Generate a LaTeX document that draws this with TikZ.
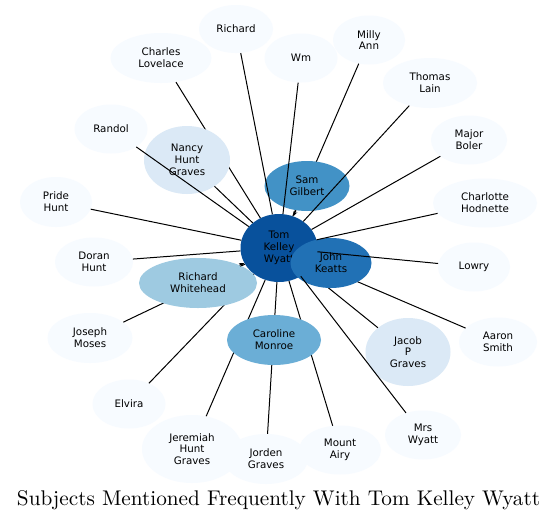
\documentclass[tikz,border=0pt]{standalone}
\usepackage{fontspec}
\usepackage{graphicx}
\newfontfamily\lblfont{DejaVu Sans}
\usetikzlibrary{shapes.geometric,arrows.meta}
\definecolor{c0}{HTML}{F7FBFF}
\definecolor{c1}{HTML}{DBE9F6}
\definecolor{c2}{HTML}{9ECAE1}
\definecolor{c3}{HTML}{6BAED6}
\definecolor{c4}{HTML}{4292C6}
\definecolor{c5}{HTML}{2171B5}
\definecolor{c6}{HTML}{08519C}
\begin{document}
\begin{tikzpicture}[x=1pt,y=-1pt,
  subj/.style={ellipse, draw=none, inner sep=0pt, align=center,
    font=\lblfont\fontsize{10.3}{11.8}\selectfont, text=black},
  sz/.style 2 args={minimum width=#1pt, minimum height=#2pt},
  link/.style={line width=1pt, black},
  tiplink/.style={link, -{Stealth[length=5pt,width=4pt]}},
  ]
\useasboundingbox (0,0) rectangle (557,520);
\fill[white] (0,0) rectangle (557,520);

% outer subjects
\node[subj,fill=c0,sz={74}{48}] (richard) at (236,29) {Richard};
\node[subj,fill=c0,sz={101}{50}] (charles) at (161,58) {Charles\\Lovelace};
\node[subj,fill=c0,sz={73}{49}] (wm) at (301,58) {Wm};
\node[subj,fill=c0,sz={72}{49}] (milly) at (369,40) {Milly\\Ann};
\node[subj,fill=c0,sz={94}{50}] (thomas) at (430,83) {Thomas\\Lain};
\node[subj,fill=c0,sz={73}{49}] (randol) at (111,129) {Randol};
\node[subj,fill=c0,sz={76}{49}] (major) at (469,140) {Major\\Boler};
\node[subj,fill=c0,sz={72}{50}] (pride) at (56,202) {Pride\\Hunt};
\node[subj,fill=c0,sz={104}{49}] (charlotte) at (485,203) {Charlotte\\Hodnette};
\node[subj,fill=c0,sz={78}{49}] (doran) at (94,262) {Doran\\Hunt};
\node[subj,fill=c0,sz={72}{49}] (lowry) at (474,267) {Lowry};
\node[subj,fill=c0,sz={85}{50}] (joseph) at (90,338) {Joseph\\Moses};
\node[subj,fill=c1,sz={85}{68}] (jacob) at (408,352) {Jacob\\P\\Graves};
\node[subj,fill=c0,sz={78}{49}] (aaron) at (498,342) {Aaron\\Smith};
\node[subj,fill=c0,sz={73}{49}] (elvira) at (129,404) {Elvira};
\node[subj,fill=c0,sz={76}{49}] (mrswyatt) at (423,435) {Mrs\\Wyatt};
\node[subj,fill=c0,sz={100}{68}] (jeremiah) at (192,449) {Jeremiah\\Hunt\\Graves};
\node[subj,fill=c0,sz={84}{50}] (jorden) at (266,459) {Jorden\\Graves};
\node[subj,fill=c0,sz={82}{49}] (mount) at (340,450) {Mount\\Airy};

% centre
\node[subj,fill=c6,sz={77}{68}] (tom) at (279,248) {Tom\\Kelley\\Wyatt};

% connectors lying beneath the coloured subjects
\draw[link] (charles) -- (tom);
\draw[link] (milly) -- (tom);
\draw[link] (aaron) -- (tom);
\draw[link] (jacob) -- (tom);
\draw[link] (jeremiah) -- (tom);
\draw[link] (jorden) -- (tom);
\draw[link] (mount) -- (tom);
\draw[link] (elvira) -- (tom);
\draw[link] (joseph) -- (tom);

% coloured subjects
\node[subj,fill=c1,sz={86}{68}] (nancy) at (187,160) {Nancy\\Hunt\\Graves};
\node[subj,fill=c4,sz={85}{50}] (sam) at (307,186) {Sam\\Gilbert};
\node[subj,fill=c3,sz={94}{50}] (caroline) at (274,340) {Caroline\\Monroe};
\node[subj,fill=c2,sz={118}{50}] (whitehead) at (198,283) {Richard\\Whitehead};

\draw[tiplink] (sam) -- (tom);
\draw[tiplink] (whitehead) -- (tom);

\node[subj,fill=c5,sz={81}{50}] (john) at (331,263) {John\\Keatts};

% connectors drawn on top
\draw[link] (randol) -- (tom);
\draw[link] (nancy) -- (tom);
\draw[link] (richard) -- (tom);
\draw[link] (wm) -- (tom);
\draw[link] (thomas) -- (tom);
\draw[link] (major) -- (tom);
\draw[link] (charlotte) -- (tom);
\draw[link] (pride) -- (tom);
\draw[link] (doran) -- (tom);
\draw[link] (lowry) -- (tom);
\draw[link] (mrswyatt) -- (tom);

% title
\node[anchor=base, inner sep=0pt] (title) at (278.5,505)
  {\resizebox{523pt}{!}{\fontsize{10}{12}\selectfont Subjects Mentioned Frequently With Tom Kelley Wyatt}};
\end{tikzpicture}
\end{document}
